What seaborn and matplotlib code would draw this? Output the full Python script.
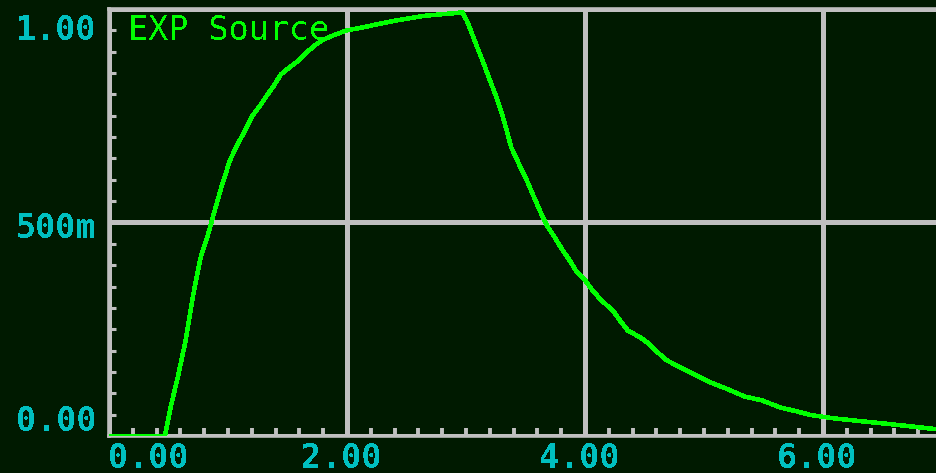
import numpy as np
import pandas as pd
import seaborn as sns
import matplotlib.pyplot as plt
from matplotlib.ticker import MultipleLocator
from matplotlib.transforms import blended_transform_factory, offset_copy

# values (time, volts)
time = [0.00, 0.47, 0.52, 0.58, 0.645, 0.706, 0.767, 0.83, 0.89, 0.95,
        1.017, 1.075, 1.14, 1.20, 1.26, 1.32, 1.384, 1.445, 1.52, 1.597,
        1.66, 1.734, 1.80, 1.90, 2.00, 2.15, 2.30, 2.45, 2.65, 2.97,
        3.01, 3.04, 3.075, 3.135, 3.196, 3.26, 3.32, 3.38, 3.445, 3.504,
        3.563, 3.625, 3.686, 3.748, 3.81, 3.874, 3.93, 4.00, 4.06, 4.117,
        4.18, 4.244, 4.30, 4.36, 4.47, 4.55, 4.61, 4.683, 4.79, 4.92,
        5.05, 5.196, 5.345, 5.48, 5.64, 5.76, 5.90, 6.10, 6.38, 6.66, 6.95]
volts = [0.000, 0.000, 0.070, 0.140, 0.225, 0.328, 0.415, 0.470, 0.530, 0.588,
         0.646, 0.680, 0.714, 0.748, 0.770, 0.795, 0.820, 0.847, 0.864, 0.880,
         0.898, 0.916, 0.928, 0.940, 0.950, 0.958, 0.967, 0.975, 0.984, 0.992,
         0.971, 0.950, 0.924, 0.882, 0.837, 0.790, 0.738, 0.676, 0.637, 0.603,
         0.565, 0.525, 0.490, 0.464, 0.436, 0.410, 0.384, 0.365, 0.342, 0.324,
         0.307, 0.290, 0.268, 0.247, 0.230, 0.213, 0.196, 0.178, 0.162, 0.144,
         0.126, 0.110, 0.092, 0.084, 0.067, 0.059, 0.049, 0.041, 0.033, 0.025, 0.016]

x_ticks = [0, 2, 4, 6]
x_labels = ['0.00', '2.00', '4.00', '6.00']
y_ticks = [0, 0.5, 1.0]
y_labels = ['0.00', '500m', '1.00']
title = 'EXP Source'

bg = '#001a00'
grey = '#c0c0c0'
cyan = '#00c0c0'
green = '#00ff00'

sns.set_theme(style='dark', rc={'axes.facecolor': bg, 'figure.facecolor': bg})
plt.rcParams['font.family'] = ['DejaVu Sans Mono']
plt.rcParams['text.antialiased'] = False
plt.rcParams['lines.antialiased'] = False

df = pd.DataFrame({'t': time, 'v': volts})

fig = plt.figure(figsize=(9.36, 4.73), dpi=100)
ax = fig.add_axes([109 / 936, 37 / 473, 833 / 936, 427 / 473])

sns.lineplot(data=df, x='t', y='v', ax=ax, color=green, linewidth=2.5,
             estimator=None, sort=False, zorder=5)
for ln in ax.get_lines():
    ln.set_antialiased(False)

ax.set_xlim(0, 7)
ax.set_ylim(0, 1.0)
ax.set_xlabel('')
ax.set_ylabel('')

ax.set_xticks(x_ticks)
ax.set_yticks(y_ticks)
ax.set_xticklabels([])
ax.set_yticklabels([])
ax.xaxis.set_minor_locator(MultipleLocator(0.2))
ax.yaxis.set_minor_locator(MultipleLocator(0.05))
ax.tick_params(which='major', length=0)
ax.tick_params(which='minor', direction='in', color=grey, bottom=True, left=True)
ax.tick_params(axis='x', which='minor', length=5.8, width=2.8)
ax.tick_params(axis='y', which='minor', length=5.0, width=2.2)
ax.grid(True, which='major', color=grey, linewidth=2.2)

for side in ['left', 'top', 'bottom']:
    ax.spines[side].set_visible(True)
    ax.spines[side].set_color(grey)
    ax.spines[side].set_linewidth(2.6)
ax.spines['right'].set_visible(False)

# labels in pixel offsets (dpi 100, 1 px = 0.72 pt)
px = 0.72
ytr = blended_transform_factory(ax.transAxes, ax.transData)
y_shift = [15, -5.5, -21.5]
for val, lab, dy in zip(y_ticks, y_labels, y_shift):
    tr = offset_copy(ytr, fig=fig, x=-13 * px, y=dy * px, units='points')
    ax.text(0, val, lab, transform=tr, ha='right', va='center',
            color=cyan, fontsize=24, fontweight='bold', clip_on=False)

xtr = blended_transform_factory(ax.transData, ax.transAxes)
for val, lab in zip(x_ticks, x_labels):
    if val == 0:
        tr = offset_copy(xtr, fig=fig, x=-1 * px, y=-22 * px, units='points')
        ha = 'left'
    else:
        tr = offset_copy(xtr, fig=fig, x=-5.5 * px, y=-22 * px, units='points')
        ha = 'center'
    ax.text(val, 0, lab, transform=tr, ha=ha, va='center',
            color=cyan, fontsize=24, fontweight='bold', clip_on=False)

ttr = offset_copy(ax.transAxes, fig=fig, x=19 * px, y=-21.5 * px, units='points')
ax.text(0, 1, title, transform=ttr, ha='left', va='center',
        color=green, fontsize=24, zorder=6)

fig.savefig('out.png', dpi=100, facecolor=bg)
